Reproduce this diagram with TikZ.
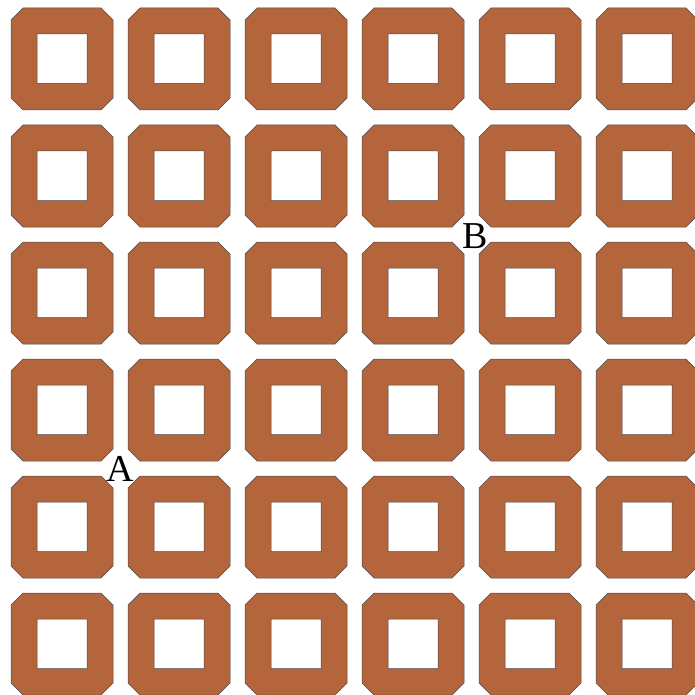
\documentclass[tikz,border=0pt]{standalone}
\usepackage{fontspec}
\setmainfont{Liberation Serif}
\definecolor{tilebrown}{RGB}{181,101,59}
\tikzset{
  tile/.style={fill=tilebrown, draw=black!70, line width=0.5pt, even odd rule},
  ptlabel/.style={font=\fontsize{38}{40}\selectfont, inner sep=0pt}
}
\begin{document}
\begin{tikzpicture}[x=1pt, y=-1pt]
    % 画布范围
    \useasboundingbox (0,0) rectangle (694,695);

    % 6x6 方砖（八边形外框，正方形孔）
    \foreach \i in {0,...,5} {
        \foreach \j in {0,...,5} {
            \pgfmathsetmacro{\cx}{62+117*\i}
            \pgfmathsetmacro{\cy}{59+117*\j}
            \draw[tile] (\cx-39,\cy-51) -- (\cx+39,\cy-51) -- (\cx+51,\cy-39)
                -- (\cx+51,\cy+39) -- (\cx+39,\cy+51) -- (\cx-39,\cy+51)
                -- (\cx-51,\cy+39) -- (\cx-51,\cy-39) -- cycle
                (\cx-25,\cy-25) rectangle (\cx+25,\cy+24.5);
        }
    }

    % 点 A、B
    \node[ptlabel] (A) at (120,469) {A};
    \node[ptlabel] (B) at (475,236) {B};
\end{tikzpicture}
\end{document}
